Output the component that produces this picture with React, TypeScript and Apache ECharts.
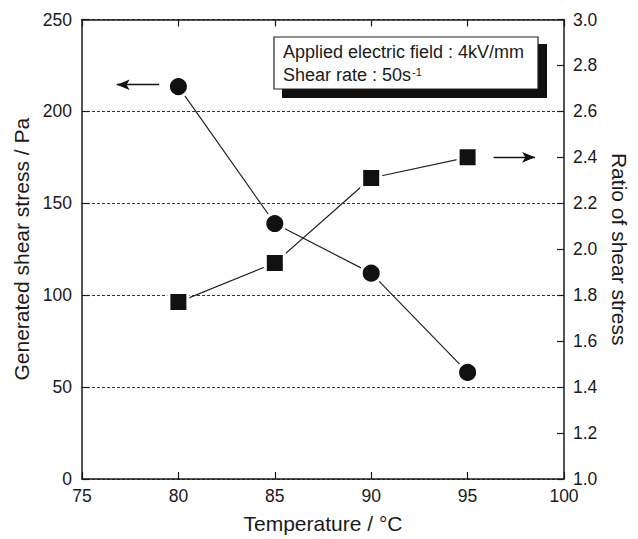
import React, { useEffect, useRef } from "react";
import * as echarts from "echarts";

const temperatures = [80, 85, 90, 95];
const shearStress = [213.5, 139, 112, 58];
const shearRatio = [1.77, 1.94, 2.31, 2.4];
const leftTicks = [0, 250, 50];
const rightTicks = [1.0, 3.0, 0.2];
const xTicks = [75, 100, 5];
const boxLine1 = "Applied electric field : 4kV/mm";
const boxLine2 = "Shear rate : 50s";
const boxSup = "-1";

const FONT = "Liberation Sans, Arial, Helvetica, sans-serif";
const INK = "#1a1a1a";

export default function App() {
  const ref = useRef<HTMLDivElement>(null);
  useEffect(() => {
    if (!ref.current) return;
    const chart = echarts.init(ref.current, null, { renderer: "svg" });
    const axisLine = { show: true, lineStyle: { color: INK, width: 1.5 } };
    const tick = (show: boolean) => ({
      show,
      inside: true,
      length: 7,
      lineStyle: { color: INK, width: 1.2 },
    });
    const label = { color: INK, fontSize: 17.5, fontFamily: FONT };
    const nameStyle = { color: INK, fontSize: 21, fontFamily: FONT };
    const marker = { color: "#111", borderColor: "#fff", borderWidth: 3 };
    chart.setOption({
      animation: false,
      backgroundColor: "#fff",
      textStyle: { fontFamily: FONT },
      grid: { left: 82, right: 66.5, top: 19.5, bottom: 56 },
      xAxis: [
        {
          type: "value",
          min: xTicks[0],
          max: xTicks[1],
          interval: xTicks[2],
          position: "bottom",
          name: "Temperature / °C",
          nameLocation: "middle",
          nameGap: 34,
          nameTextStyle: nameStyle,
          axisLine,
          axisTick: tick(true),
          axisLabel: { ...label, margin: 8 },
          splitLine: { show: false },
        },
        {
          type: "value",
          min: xTicks[0],
          max: xTicks[1],
          interval: xTicks[2],
          position: "top",
          axisLine,
          axisTick: tick(true),
          axisLabel: { show: false },
          splitLine: { show: false },
        },
      ],
      yAxis: [
        {
          type: "value",
          min: leftTicks[0],
          max: leftTicks[1],
          interval: leftTicks[2],
          position: "left",
          name: "Generated shear stress / Pa",
          nameLocation: "middle",
          nameGap: 49,
          nameTextStyle: nameStyle,
          axisLine,
          axisTick: tick(true),
          axisLabel: { ...label, margin: 10 },
          splitLine: {
            show: true,
            lineStyle: { color: "#333", width: 1, type: [3, 2] },
          },
        },
        {
          type: "value",
          min: rightTicks[0],
          max: rightTicks[1],
          interval: rightTicks[2],
          position: "right",
          name: "Ratio of shear stress",
          nameLocation: "middle",
          nameRotate: -90,
          nameGap: 45,
          nameTextStyle: nameStyle,
          axisLine,
          axisTick: tick(true),
          axisLabel: {
            ...label,
            margin: 9,
            formatter: (v: number) => v.toFixed(1),
          },
          splitLine: { show: false },
        },
      ],
      series: [
        {
          type: "line",
          xAxisIndex: 0,
          yAxisIndex: 0,
          data: temperatures.map((t, i) => [t, shearStress[i]]),
          symbol: "circle",
          symbolSize: 20,
          lineStyle: { color: "#222", width: 1.2 },
          itemStyle: marker,
          z: 3,
          markLine: {
            silent: true,
            symbol: ["arrow", "none"],
            symbolSize: [8, 13],
            label: { show: false },
            lineStyle: { color: "#111", width: 1.3, type: "solid" },
            data: [[{ coord: [76.8, 214.5] }, { coord: [79.0, 214.5] }]],
          },
        },
        {
          type: "line",
          xAxisIndex: 0,
          yAxisIndex: 1,
          data: temperatures.map((t, i) => [t, shearRatio[i]]),
          symbol: "rect",
          symbolSize: 19,
          lineStyle: { color: "#222", width: 1.2 },
          itemStyle: marker,
          z: 3,
          markLine: {
            silent: true,
            symbol: ["none", "arrow"],
            symbolSize: [8, 13],
            label: { show: false },
            lineStyle: { color: "#111", width: 1.3, type: "solid" },
            data: [[{ coord: [96.35, 2.4] }, { coord: [98.5, 2.4] }]],
          },
        },
      ],
      graphic: [
        {
          type: "rect",
          shape: { x: 282, y: 44, width: 265, height: 54 },
          style: { fill: "#111" },
          z: 10,
        },
        {
          type: "rect",
          shape: { x: 274, y: 37, width: 264, height: 52 },
          style: { fill: "#fff", stroke: "#222", lineWidth: 1.2 },
          z: 11,
        },
        {
          type: "text",
          x: 283,
          y: 52,
          style: {
            text: boxLine1,
            fontSize: 18,
            fontFamily: FONT,
            fill: INK,
            verticalAlign: "middle",
          },
          z: 12,
        },
        {
          type: "text",
          x: 283,
          y: 75,
          style: {
            text: boxLine2,
            fontSize: 18,
            fontFamily: FONT,
            fill: INK,
            verticalAlign: "middle",
          },
          z: 12,
        },
        {
          type: "text",
          x: 412,
          y: 66,
          style: {
            text: boxSup,
            fontSize: 11,
            fontFamily: FONT,
            fill: INK,
            verticalAlign: "top",
          },
          z: 12,
        },
      ],
    });
    return () => chart.dispose();
  }, []);
  return (
    <div
      ref={ref}
      style={{ width: 638, height: 539, position: "absolute", left: 0, top: 0 }}
    />
  );
}
